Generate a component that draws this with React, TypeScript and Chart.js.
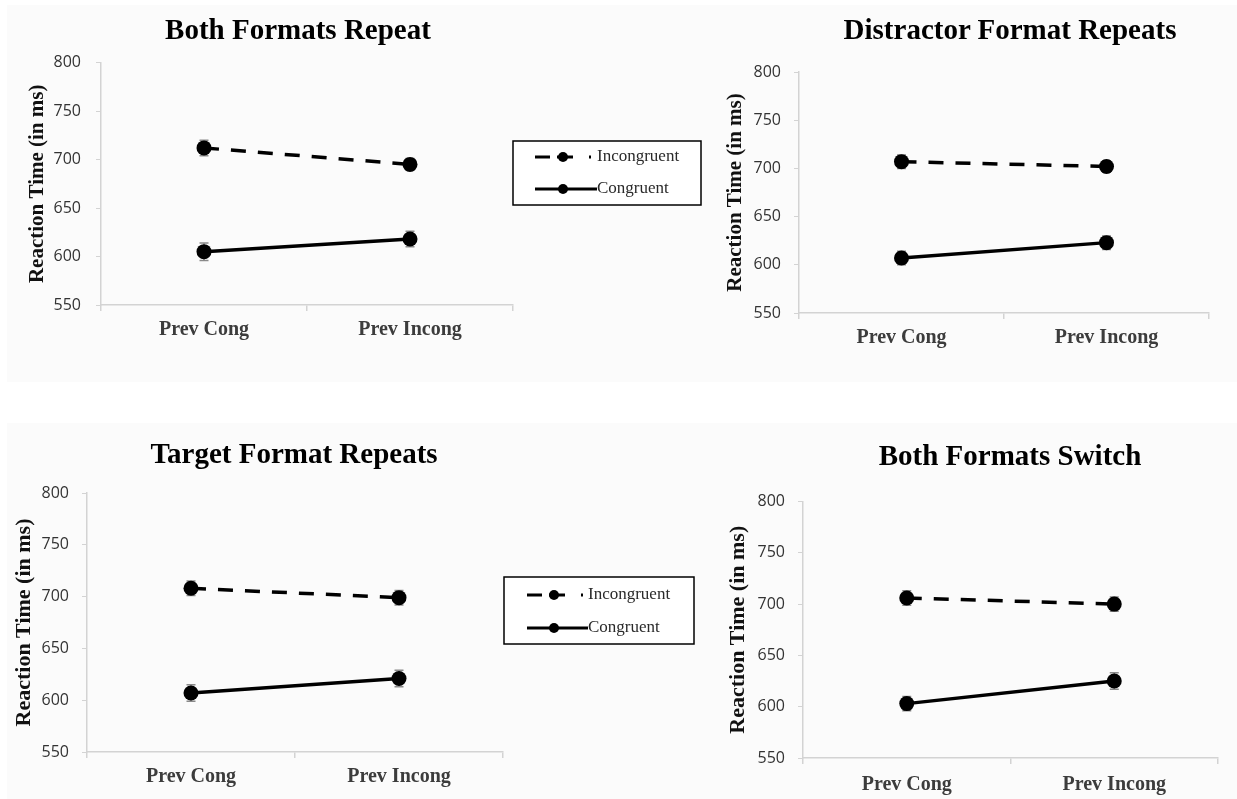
import React, { useEffect, useRef } from "react";
import { Chart, registerables } from "chart.js";

Chart.register(...registerables);

// ---------- data ----------
const categories = ["Prev Cong", "Prev Incong"];
const seriesLabels = ["Incongruent", "Congruent"];
const yTickValues = [550, 600, 650, 700, 750, 800];
const panelTitles = [
  "Both Formats Repeat",
  "Distractor Format Repeats",
  "Target Format Repeats",
  "Both Formats Switch",
];
const yAxisTitle = "Reaction Time (in ms)";

const bothRepeatIncongruent = [712, 695];
const bothRepeatCongruent = [605, 618];
const bothRepeatIncongruentErr = [8, 6];
const bothRepeatCongruentErr = [9, 8];

const distractorRepeatsIncongruent = [707, 702];
const distractorRepeatsCongruent = [607, 623];
const distractorRepeatsIncongruentErr = [7, 6];
const distractorRepeatsCongruentErr = [7, 7];

const targetRepeatsIncongruent = [708, 699];
const targetRepeatsCongruent = [607, 621];
const targetRepeatsIncongruentErr = [7, 7];
const targetRepeatsCongruentErr = [8, 8];

const bothSwitchIncongruent = [706, 700];
const bothSwitchCongruent = [603, 625];
const bothSwitchIncongruentErr = [7, 7];
const bothSwitchCongruentErr = [7, 8];

// ---------- layout / style ----------
const SERIF = '"Liberation Serif", "Times New Roman", serif';
const SANS = '"Open Sans", "Liberation Sans", sans-serif';
const AXIS_COLOR = "#d3d3d3";

const panels = [
  {
    title: panelTitles[0],
    inc: bothRepeatIncongruent,
    con: bothRepeatCongruent,
    incErr: bothRepeatIncongruentErr,
    conErr: bothRepeatCongruentErr,
    left: 0, top: 0, width: 710, height: 390,
    pad: { left: 0, top: 62.6, right: 197, bottom: 0 },
    yWidth: 101, xHeight: 85, yTitleSize: 21, yTitlePad: 25.4, yTickPad: 15, xTickPad: 7,
    titleX: 298, titleTop: 15,
    legend: { show: true, x: 513, y: 141, w: 188, h: 64, rowY: [157, 189], lineX0: 535, lineX1: 597, markerX: 563, textX: 597 },
  },
  {
    title: panelTitles[1],
    inc: distractorRepeatsIncongruent,
    con: distractorRepeatsCongruent,
    incErr: distractorRepeatsIncongruentErr,
    conErr: distractorRepeatsCongruentErr,
    left: 710, top: 0, width: 520, height: 390,
    pad: { left: 0, top: 72, right: 21, bottom: 0 },
    yWidth: 89, xHeight: 77, yTitleSize: 21, yTitlePad: 13.4, yTickPad: 13, xTickPad: 7,
    titleX: 1010, titleTop: 15,
    legend: { show: false },
  },
  {
    title: panelTitles[2],
    inc: targetRepeatsIncongruent,
    con: targetRepeatsCongruent,
    incErr: targetRepeatsIncongruentErr,
    conErr: targetRepeatsCongruentErr,
    left: 0, top: 400, width: 710, height: 399,
    pad: { left: 0, top: 93, right: 207, bottom: 0 },
    yWidth: 87, xHeight: 47, yTitleSize: 22, yTitlePad: 10.8, yTickPad: 13, xTickPad: 7,
    titleX: 294, titleTop: 439,
    legend: { show: true, x: 504, y: 177, w: 190, h: 67, rowY: [195, 228], lineX0: 527, lineX1: 588, markerX: 554, textX: 588 },
  },
  {
    title: panelTitles[3],
    inc: bothSwitchIncongruent,
    con: bothSwitchCongruent,
    incErr: bothSwitchIncongruentErr,
    conErr: bothSwitchCongruentErr,
    left: 710, top: 400, width: 520, height: 399,
    pad: { left: 0, top: 101.5, right: 12, bottom: 0 },
    yWidth: 93, xHeight: 41, yTitleSize: 22, yTitlePad: 14.8, yTickPad: 13, xTickPad: 9,
    titleX: 1010, titleTop: 440.5,
    legend: { show: false },
  },
];

// ---------- plugins ----------
const errorBarPlugin = {
  id: "errorBars",
  beforeDatasetsDraw(chart: any) {
    const ctx = chart.ctx;
    const y = chart.scales.y;
    chart.data.datasets.forEach((ds: any, i: number) => {
      const meta = chart.getDatasetMeta(i);
      meta.data.forEach((pt: any, j: number) => {
        const v = ds.data[j];
        const e = ds.errors ? ds.errors[j] : 0;
        const yt = y.getPixelForValue(v + e);
        const yb = y.getPixelForValue(v - e);
        ctx.save();
        ctx.strokeStyle = "#8a8a8a";
        ctx.lineWidth = 1.5;
        ctx.beginPath();
        ctx.moveTo(pt.x, yt);
        ctx.lineTo(pt.x, yb);
        ctx.moveTo(pt.x - 4.5, yt);
        ctx.lineTo(pt.x + 4.5, yt);
        ctx.moveTo(pt.x - 4.5, yb);
        ctx.lineTo(pt.x + 4.5, yb);
        ctx.stroke();
        ctx.restore();
      });
    });
  },
};

const boxLegendPlugin = {
  id: "boxLegend",
  afterDraw(chart: any, _args: any, opts: any) {
    if (!opts || !opts.show) return;
    const ctx = chart.ctx;
    ctx.save();
    ctx.fillStyle = "#ffffff";
    ctx.fillRect(opts.x, opts.y, opts.w, opts.h);
    ctx.strokeStyle = "#000";
    ctx.lineWidth = 1.5;
    ctx.strokeRect(opts.x, opts.y, opts.w, opts.h);
    chart.data.datasets.forEach((ds: any, i: number) => {
      const ry = opts.rowY[i];
      ctx.strokeStyle = "#000";
      ctx.fillStyle = "#000";
      ctx.lineWidth = 3;
      const dashed = ds.borderDash && ds.borderDash.length > 0;
      ctx.setLineDash(dashed ? [15, 7, 16, 16, 2, 200] : []);
      ctx.beginPath();
      ctx.moveTo(opts.lineX0, ry);
      ctx.lineTo(dashed ? opts.lineX1 - 5 : opts.lineX1, ry);
      ctx.stroke();
      ctx.setLineDash([]);
      ctx.beginPath();
      ctx.arc(opts.markerX, ry, 5, 0, Math.PI * 2);
      ctx.fill();
      ctx.fillStyle = "#2a2a2a";
      ctx.font = `17px ${SERIF}`;
      ctx.textBaseline = "middle";
      ctx.textAlign = "left";
      ctx.fillText(ds.label, opts.textX, ry);
    });
    ctx.restore();
  },
};

function Panel({ p }: { p: any }) {
  const ref = useRef<HTMLCanvasElement | null>(null);
  useEffect(() => {
    if (!ref.current) return;
    const chart = new Chart(ref.current, {
      type: "line",
      data: {
        labels: categories,
        datasets: [
          {
            label: seriesLabels[0],
            data: p.inc,
            errors: p.incErr,
            borderColor: "#000",
            backgroundColor: "#000",
            borderWidth: 3.5,
            borderDash: [15, 12],
            pointRadius: 7.5,
            pointBackgroundColor: "#000",
            pointBorderWidth: 0,
            tension: 0,
          } as any,
          {
            label: seriesLabels[1],
            data: p.con,
            errors: p.conErr,
            borderColor: "#000",
            backgroundColor: "#000",
            borderWidth: 3.5,
            borderDash: [],
            pointRadius: 7.5,
            pointBackgroundColor: "#000",
            pointBorderWidth: 0,
            tension: 0,
          } as any,
        ],
      },
      options: {
        responsive: false,
        animation: false,
        devicePixelRatio: 1,
        layout: { padding: p.pad },
        plugins: {
          legend: { display: false },
          title: { display: false },
          tooltip: { enabled: false },
          boxLegend: p.legend,
        } as any,
        scales: {
          x: {
            type: "category",
            offset: true,
            grid: {
              offset: true,
              drawOnChartArea: false,
              drawTicks: true,
              tickLength: 6,
              color: AXIS_COLOR,
              lineWidth: 1.5,
            },
            border: { display: true, color: AXIS_COLOR, width: 1.5 },
            ticks: {
              padding: p.xTickPad,
              color: "#3c3c3c",
              font: { family: SERIF, size: 20, weight: "bold" },
              maxRotation: 0,
            },
            afterFit: (s: any) => {
              s.height = p.xHeight;
            },
          },
          y: {
            type: "linear",
            min: yTickValues[0],
            max: yTickValues[yTickValues.length - 1],
            afterBuildTicks: (s: any) => {
              s.ticks = yTickValues.map((v) => ({ value: v }));
            },
            grid: {
              drawOnChartArea: false,
              drawTicks: true,
              tickLength: 5,
              color: AXIS_COLOR,
              lineWidth: 1,
            },
            border: { display: true, color: AXIS_COLOR, width: 1.5 },
            ticks: {
              padding: p.yTickPad,
              color: "#333",
              font: { family: SANS, size: 16 },
            },
            title: {
              display: true,
              text: yAxisTitle,
              color: "#111",
              font: { family: SERIF, size: p.yTitleSize, weight: "bold" },
              padding: { top: p.yTitlePad, bottom: 0 },
            },
            afterFit: (s: any) => {
              s.width = p.yWidth;
            },
          },
        },
      } as any,
      plugins: [errorBarPlugin, boxLegendPlugin],
    });
    return () => chart.destroy();
  }, [p]);

  return (
    <>
      <canvas
        ref={ref}
        width={p.width}
        height={p.height}
        style={{ position: "absolute", left: p.left, top: p.top, width: p.width, height: p.height }}
      />
      <div
        style={{
          position: "absolute",
          left: p.titleX - 300,
          top: p.titleTop,
          width: 600,
          textAlign: "center",
          fontFamily: SERIF,
          fontWeight: "bold",
          fontSize: 29,
          lineHeight: "29px",
          color: "#000",
          whiteSpace: "nowrap",
        }}
      >
        {p.title}
      </div>
    </>
  );
}

export default function App() {
  return (
    <div
      style={{
        position: "fixed",
        left: 0,
        top: 0,
        width: 1237,
        height: 799,
        background: "#ffffff",
        overflow: "hidden",
      }}
    >
      <div style={{ position: "absolute", left: 7, top: 5, width: 1230, height: 377, background: "#fbfbfb" }} />
      <div style={{ position: "absolute", left: 7, top: 423, width: 1230, height: 376, background: "#fbfbfb" }} />
      {panels.map((p, i) => (
        <Panel key={i} p={p} />
      ))}
    </div>
  );
}
